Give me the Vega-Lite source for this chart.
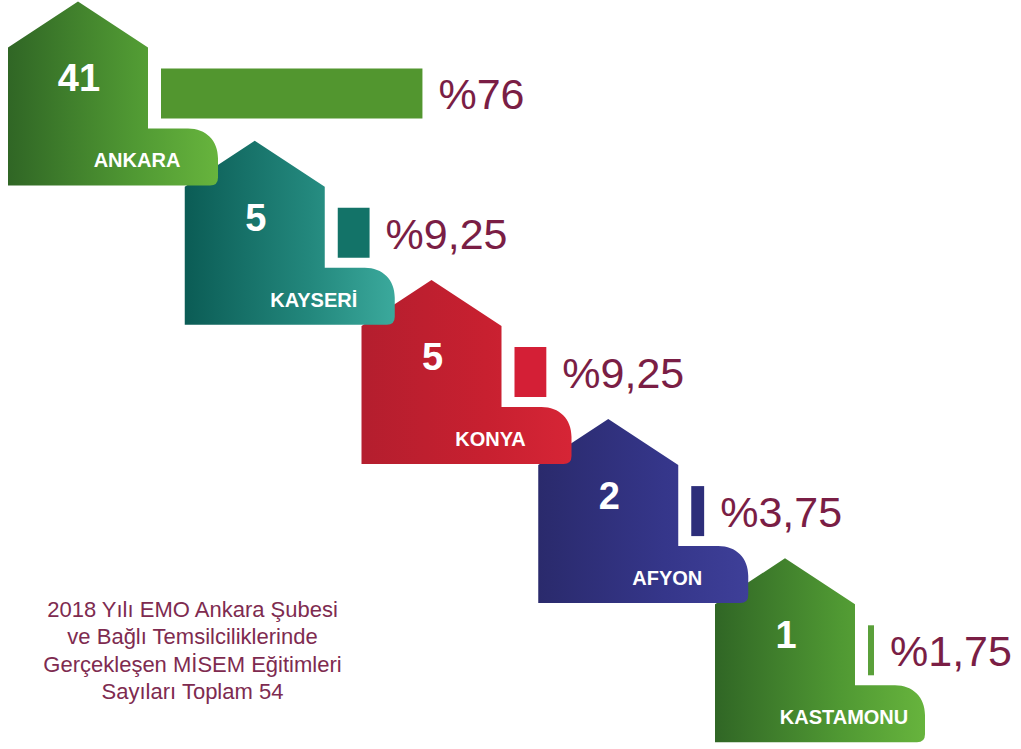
{
  "$schema": "https://vega.github.io/schema/vega-lite/v6.json",
  "width": 1021,
  "height": 749,
  "autosize": "none",
  "padding": 0,
  "background": "white",
  "config": {"view": {"stroke": null}},
  "data": {
    "values": [
      {"rank": 1, "city": "ANKARA", "count": 41, "pct": 76},
      {"rank": 2, "city": "KAYSERİ", "count": 5, "pct": 9.25},
      {"rank": 3, "city": "KONYA", "count": 5, "pct": 9.25},
      {"rank": 4, "city": "AFYON", "count": 2, "pct": 3.75},
      {"rank": 5, "city": "KASTAMONU", "count": 1, "pct": 1.75}
    ]
  },
  "layer": [
    {
      "mark": {
        "type": "point",
        "shape": "M-0.7,-0.46L0,-0.92L0.7,-0.46L0.7,0.35L1.1,0.35C1.28,0.35 1.4,0.47 1.4,0.65L1.4,0.84Q1.4,0.92 1.32,0.92L-0.7,0.92Z",
        "size": 40000,
        "filled": true,
        "opacity": 1,
        "strokeWidth": 0
      },
      "encoding": {
        "x": {"field": "rank", "type": "quantitative", "scale": {"domain": [0.5587, 6.3352], "nice": false, "zero": false}, "axis": null},
        "y": {"field": "rank", "type": "quantitative", "scale": {"domain": [0.3283, 5.7091], "reverse": true, "nice": false, "zero": false}, "axis": null},
        "order": {"field": "rank", "sort": "descending"},
        "fill": {
          "condition": [
            {"test": "datum.city === 'ANKARA' || datum.city === 'KASTAMONU'", "value": {"gradient": "linear", "x1": 0, "y1": 0, "x2": 1, "y2": 0, "stops": [{"offset": 0, "color": "#306625"}, {"offset": 0.6, "color": "#509933"}, {"offset": 1, "color": "#67b43d"}]}},
            {"test": "datum.city === 'KAYSERİ'", "value": {"gradient": "linear", "x1": 0, "y1": 0, "x2": 1, "y2": 0, "stops": [{"offset": 0, "color": "#0b5c55"}, {"offset": 0.6, "color": "#23887d"}, {"offset": 1, "color": "#3ba99c"}]}},
            {"test": "datum.city === 'KONYA'", "value": {"gradient": "linear", "x1": 0, "y1": 0, "x2": 1, "y2": 0, "stops": [{"offset": 0, "color": "#b41e2e"}, {"offset": 0.6, "color": "#c82030"}, {"offset": 1, "color": "#d62536"}]}}
          ],
          "value": {"gradient": "linear", "x1": 0, "y1": 0, "x2": 1, "y2": 0, "stops": [{"offset": 0, "color": "#2a2a6c"}, {"offset": 0.6, "color": "#35368a"}, {"offset": 1, "color": "#3e3f98"}]}
        }
      }
    },
    {
      "mark": {"type": "rect", "xOffset": 83, "x2Offset": {"expr": "83 + datum.pct * 3.44"}, "yOffset": -25, "y2Offset": 25},
      "encoding": {
        "x": {"field": "rank", "type": "quantitative"},
        "y": {"field": "rank", "type": "quantitative"},
        "x2": {"field": "rank"},
        "y2": {"field": "rank"},
        "fill": {
          "field": "city",
          "type": "nominal",
          "scale": {"domain": ["ANKARA", "KAYSERİ", "KONYA", "AFYON", "KASTAMONU"], "range": ["#52962f", "#137368", "#d41f36", "#2d2e7a", "#5aa03a"]},
          "legend": null
        }
      }
    },
    {
      "mark": {"type": "text", "font": "Liberation Sans", "fontWeight": "bold", "fontSize": 38, "color": "white", "align": "center", "baseline": "alphabetic", "dx": 1, "dy": -2},
      "encoding": {
        "x": {"field": "rank", "type": "quantitative"},
        "y": {"field": "rank", "type": "quantitative"},
        "text": {"field": "count", "type": "quantitative"}
      }
    },
    {
      "mark": {"type": "text", "font": "Liberation Sans", "fontWeight": "bold", "fontSize": 20, "color": "white", "align": "center", "baseline": "alphabetic", "dx": 59, "dy": 74},
      "encoding": {
        "x": {"field": "rank", "type": "quantitative"},
        "y": {"field": "rank", "type": "quantitative"},
        "text": {"field": "city", "type": "nominal"}
      }
    },
    {
      "mark": {
        "type": "text",
        "font": "Liberation Sans",
        "fontSize": 43,
        "color": "#7a1e45",
        "align": "left",
        "baseline": "alphabetic",
        "xOffset": {"expr": "99 + datum.pct * 3.44"},
        "dy": 16,
        "text": {"expr": "'%' + replace(format(datum.pct, '~g'), '.', ',')"}
      },
      "encoding": {
        "x": {"field": "rank", "type": "quantitative"},
        "y": {"field": "rank", "type": "quantitative"}
      }
    },
    {
      "data": {"values": [{"caption": ["2018 Yılı EMO Ankara Şubesi", "ve Bağlı Temsilciliklerinde", "Gerçekleşen MİSEM Eğitimleri", "Sayıları Toplam 54"]}]},
      "mark": {
        "type": "text",
        "font": "Liberation Sans",
        "fontSize": 22,
        "color": "#7e2b50",
        "align": "center",
        "baseline": "alphabetic",
        "lineHeight": 27.5
      },
      "encoding": {
        "x": {"datum": 1.6478, "type": "quantitative"},
        "y": {"datum": 4.7608, "type": "quantitative"},
        "text": {"field": "caption"}
      }
    }
  ],
  "resolve": {"scale": {"x": "shared", "y": "shared"}}
}
